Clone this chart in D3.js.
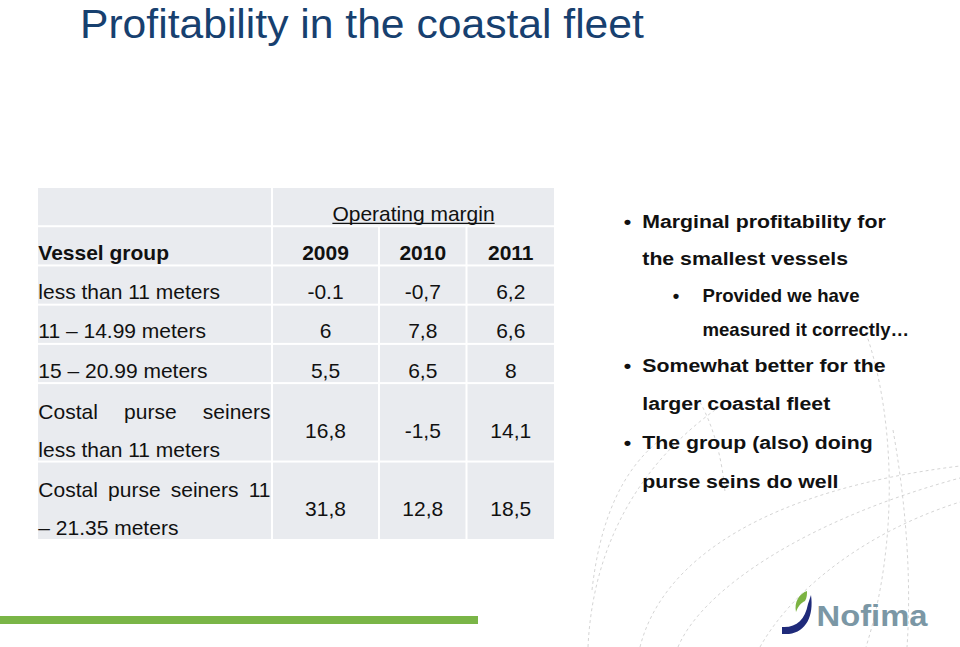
<!DOCTYPE html>
<html>
<head>
<meta charset="utf-8">
<script src="https://cdn.jsdelivr.net/npm/d3@7"></script>
<style>
  html, body { margin: 0; padding: 0; background: #ffffff; }
  svg { display: block; }
  text { font-family: "Liberation Sans", Arial, Helvetica, sans-serif; }
</style>
</head>
<body>
<svg id="chart" width="960" height="647"></svg>
<script>
// ---------------- data ----------------
const titleText = "Profitability in the coastal fleet";
const groupHeader = "Operating margin";
const firstColHeader = "Vessel group";
const years = ["2009", "2010", "2011"];
const vesselGroups = [
  ["less than 11 meters"],
  ["11 – 14.99 meters"],
  ["15 – 20.99 meters"],
  ["Costal purse seiners", "less than 11 meters"],
  ["Costal purse seiners 11", "– 21.35 meters"]
];
const margin2009 = ["-0.1", "6", "5,5", "16,8", "31,8"];
const margin2010 = ["-0,7", "7,8", "6,5", "-1,5", "12,8"];
const margin2011 = ["6,2", "6,6", "8", "14,1", "18,5"];
const bulletLevels = [1, 1, 2, 2, 1, 1, 1, 1];
const bulletStarts = [true, false, true, false, true, false, true, false];
const bulletLines = [
  "Marginal profitability for",
  "the smallest vessels",
  "Provided we have",
  "measured it correctly…",
  "Somewhat better for the",
  "larger coastal fleet",
  "The group (also) doing",
  "purse seins do well"
];
const logoText = "Nofima";

// ---------------- layout ----------------
const svg = d3.select("#chart");
const FONT_COLOR = "#111111";
const CELL_FILL = "#e9ebef";

function addText(parent, str, x, y, o) {
  const t = parent.append("text")
    .attr("transform", `translate(${x},${y}) scale(${o.sx || 1},${o.sy || 1})`)
    .attr("text-anchor", o.anchor || "start")
    .style("font-size", o.size + "px")
    .style("font-weight", o.weight || "normal")
    .attr("fill", o.fill || FONT_COLOR)
    .text(str);
  return t;
}

// decorative dashed arcs (slide template background)
const deco = svg.append("g").attr("fill", "none").attr("stroke", "#c9c9c9")
  .attr("stroke-width", 0.8).attr("stroke-dasharray", "3,3");
[
  "M 588,647 C 592,560 628,470 722,405",
  "M 640,647 C 662,560 765,490 960,466",
  "M 678,647 C 702,590 805,520 960,478",
  "M 760,647 C 792,590 865,532 960,502",
  "M 866,333 C 896,420 898,545 866,647",
  "M 893,430 C 908,515 911,590 907,647",
  "M 700,402 C 714,428 722,458 725,492",
  "M 592,590 C 600,520 622,470 660,440"
].forEach(d => deco.append("path").attr("d", d));

// title
addText(svg, titleText, 80, 37.5, { size: 41, sx: 1.04, fill: "#17406f" });

// ---------------- table ----------------
const table = svg.append("g");
const colEdges = [37, 272, 379, 466.5, 555];
const totalLines = 9;
const lineY = d3.scaleLinear().domain([0, totalLines]).range([187, 540]);
const TS = 21; // table font size
const gap = 1;

// row structure: line spans
const rowLines = [1, 1].concat(vesselGroups.map(g => g.length));
const rowStart = [];
rowLines.reduce((acc, n) => { rowStart.push(acc); return acc + n; }, 0);

function cell(c0, c1, r) {
  const y0 = lineY(rowStart[r]), y1 = lineY(rowStart[r] + rowLines[r]);
  table.append("rect")
    .attr("x", colEdges[c0] + gap).attr("y", y0 + gap)
    .attr("width", colEdges[c1] - colEdges[c0] - 2 * gap)
    .attr("height", y1 - y0 - 2 * gap)
    .attr("fill", CELL_FILL);
}
// header row 1
cell(0, 1, 0); cell(1, 4, 0);
for (let r = 1; r < rowLines.length; r++) for (let c = 0; c < 4; c++) cell(c, c + 1, r);

const colCenter = c => (colEdges[c] + colEdges[c + 1]) / 2;
const textLeft = colEdges[0] + 1.3;
const textRight = colEdges[1] - 1.5;

// Operating margin (underlined)
const omX = (colEdges[1] + colEdges[4]) / 2;
const omY = lineY(1) - 5.5;
const om = addText(table, groupHeader, omX, omY, { size: TS, anchor: "middle" });
const omW = om.node().getComputedTextLength();
table.append("line").attr("x1", omX - omW / 2).attr("x2", omX + omW / 2)
  .attr("y1", omY + 2.6).attr("y2", omY + 2.6).attr("stroke", FONT_COLOR).attr("stroke-width", 1.3);

// header row 2
addText(table, firstColHeader, textLeft, lineY(2) - 5.5, { size: TS, weight: "bold" });
years.forEach((yr, i) => addText(table, yr, colCenter(i + 1), lineY(2) - 5.5, { size: TS, weight: "bold", anchor: "middle" }));

// justified line helper
function justified(parent, str, y) {
  const words = str.split(" ");
  const nodes = words.map(w => addText(parent, w, 0, y, { size: TS }));
  const widths = nodes.map(n => n.node().getComputedTextLength());
  const sum = d3.sum(widths);
  const g = (textRight - textLeft - sum) / (words.length - 1);
  let x = textLeft;
  nodes.forEach((n, i) => { n.attr("transform", `translate(${x},${y})`); x += widths[i] + g; });
}

const series = [margin2009, margin2010, margin2011];
vesselGroups.forEach((lines, i) => {
  const r = i + 2;
  const top = lineY(rowStart[r]);
  const bottom = lineY(rowStart[r] + rowLines[r]);
  if (lines.length === 1) {
    addText(table, lines[0], textLeft, bottom - 5.5, { size: TS });
  } else {
    justified(table, lines[0], top + 35.8);
    addText(table, lines[1], textLeft, top + 35.8 + 38, { size: TS });
  }
  const valY = lines.length === 1 ? bottom - 5.5 : (top + bottom) / 2 + 15.5;
  series.forEach((s, j) => addText(table, s[i], colCenter(j + 1), valY, { size: TS, anchor: "middle" }));
});

// ---------------- bullets ----------------
const bulletG = svg.append("g");
const bulletBaselines = [228.3, 265, 301.7, 335.5, 371.7, 410, 449, 487.7];
bulletLines.forEach((line, i) => {
  const lvl = bulletLevels[i];
  const size = lvl === 1 ? 19 : 17.5;
  const sx = lvl === 1 ? 1.12 : 1.063;
  const x = lvl === 1 ? 642.3 : 702.5;
  const bx = lvl === 1 ? 627.5 : 676;
  const y = bulletBaselines[i];
  addText(bulletG, line, x, y, { size, sx, weight: "bold" });
  if (bulletStarts[i]) addText(bulletG, "•", bx, y, { size, sx, weight: "bold", anchor: "middle" });
});

// ---------------- footer ----------------
svg.append("rect").attr("x", 0).attr("y", 616).attr("width", 478).attr("height", 8).attr("fill", "#7ab547");

const logo = svg.append("g");
logo.append("path")
  .attr("d", "M 782,627 C 796,628 805,620 808,604 L 811,595 C 814,616 806,632 789,634 L 782,634 Z")
  .attr("fill", "#1f2a7a");
logo.append("path")
  .attr("d", "M 807,591 C 799,594 794,602 796,612 C 798,606 801,603 805,601 C 807,598 807,594 807,591 Z")
  .attr("fill", "#7cb342");
addText(logo, logoText, 816.5, 625.5, { size: 29, sx: 1.13, weight: "bold", fill: "#7b97a5" });
</script>
</body>
</html>
